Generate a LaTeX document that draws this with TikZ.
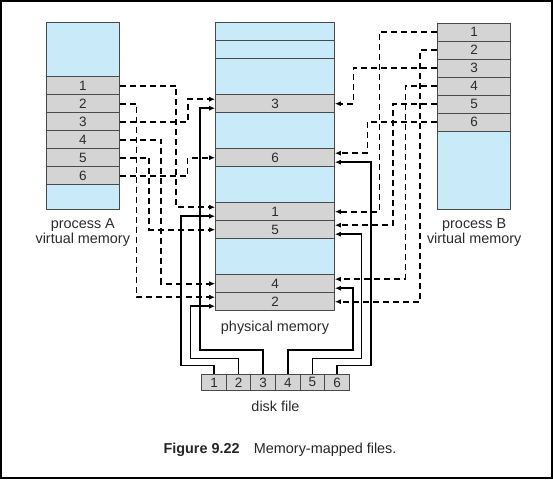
\documentclass[tikz,border=0pt]{standalone}
\usepackage{xcolor}
\usepackage{fontspec}
\setmainfont{Liberation Sans}
\usepackage{tikz}
\usetikzlibrary{positioning, arrows.meta, calc}

\definecolor{memblue}{HTML}{C8EAF9}
\definecolor{cellgray}{HTML}{D4D4D4}
\definecolor{boxline}{HTML}{4A4A4A}
\definecolor{inkgray}{HTML}{2B2B2B}

\tikzset{
  cell/.style={draw=boxline, fill=cellgray, line width=1pt, inner sep=0pt,
    minimum height=18pt, font=\fontsize{13.5}{14}\selectfont, text=inkgray},
  bluebox/.style={draw=boxline, fill=memblue, line width=1pt},
  dashline/.style={line width=1.7pt, dash pattern=on 6pt off 4pt,
    -{Latex[length=6pt,width=5pt]}},
  solidline/.style={line width=1.7pt, -{Latex[length=6pt,width=5pt]}},
  lbl/.style={font=\fontsize{14.4}{15.5}\selectfont, text=inkgray, align=center, inner sep=0pt}
}

\begin{document}
\begin{tikzpicture}[x=1pt, y=-1pt]

\useasboundingbox (0,0) rectangle (553,479);
\draw[line width=1.5pt] (0.8,0.8) rectangle (552.2,478.2);

%// process A
\def\ax{46.7}
\filldraw[bluebox] (\ax,22.7) rectangle (119,76.7);
\filldraw[bluebox] (\ax,184.7) rectangle (119,209.3);
\foreach \i in {1,...,6}
\node[cell, minimum width=72.3pt] (A\i) at (82.85, 67.7+18*\i) {\i};
\node[lbl] (labelA) at (82.8, 232.5) {process A\\virtual memory};

%// process B
\def\bx{437.7}
\filldraw[bluebox] (\bx,131) rectangle (510.7,209.3);
\foreach \i in {1,...,6}
\node[cell, minimum width=73pt] (B\i) at (474.2, 14+18*\i) {\i};
\node[lbl] (labelB) at (474.2, 232.5) {process B\\virtual memory};

%// physical memory
\def\px{215.7}
\foreach \r/\h in {0/1, 1/1, 2/2, 5/2, 8/2, 12/2}
\filldraw[bluebox] (\px, 22.7+18*\r) rectangle (334.3, 22.7+18*\r+18*\h);

\foreach \n/\r in {3/4, 6/7, 1/10, 5/11, 4/14, 2/15}
\node[cell, minimum width=118.6pt] (P\n) at (275, 31.7+18*\r) {\n};
\node[lbl] (labelP) at (275, 328) {physical memory};

%// disk file
\foreach \i in {1,...,6}
\node[cell, minimum width=24.6pt, minimum height=16.7pt] (D\i) at (189.4+24.6*\i, 382.35) {\i};
\node[lbl] (labelD) at (275.5, 406.5) {disk file};

%// process A -> physical memory
\draw[dashline] (A1.east) -- ++(56.7,0) |- ([yshift=4.5pt]P1.west);
\draw[dashline] (A2.east) -- ++(17,0) |- ([yshift=4.5pt]P2.west);
\draw[dashline] (A3.east) -- ++(68.5,0) |- ([yshift=4.5pt]P3.west);
\draw[dashline] (A4.east) -- ++(41.5,0) |- (P4.west);
\draw[dashline] (A5.east) -- ++(29.3,0) |- (P5.west);
\draw[dashline] (A6.east) -- ++(68,0) |- (P6.west);

%// process B -> physical memory
\draw[dashline] (B1.west) -- ++(-57.7,0) |- (P1.east);
\draw[dashline] (B2.west) -- ++(-17,0) |- (P2.east);
\draw[dashline] (B3.west) -- ++(-83.7,0) |- (P3.east);
\draw[dashline] (B4.west) -- ++(-31.7,0) |- ([yshift=4.5pt]P4.east);
\draw[dashline] (B5.west) -- ++(-44.4,0) |- ([yshift=4.5pt]P5.east);
\draw[dashline] (B6.west) -- ++(-69.7,0) |- ([yshift=4.5pt]P6.east);

%// disk file -> physical memory
\foreach \i/\dx/\dy/\side in {1/-33/-8/west, 2/-48/-15/west, 3/-63.5/-23.5/west,
                              4/65.5/-23.5/east, 5/49/-15/east, 6/34/-8/east}
\draw[solidline] (D\i.north) |- ++(\dx,\dy) |- ([yshift=-4.5pt]P\i.\side);

\node[lbl, text=black!85] (caption) at (280, 450) {\textbf{Figure 9.22}\quad Memory-mapped files.};
\end{tikzpicture}
\end{document}
